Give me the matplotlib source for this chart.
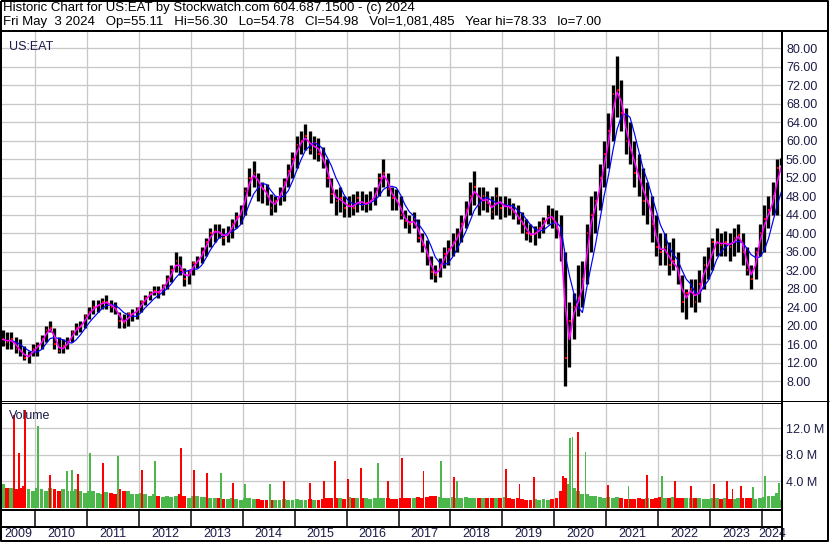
import numpy as np
import pandas as pd
import matplotlib
matplotlib.use("Agg")
import matplotlib.pyplot as plt

plt.rcParams["font.family"] = ["Liberation Sans", "DejaVu Sans"]

# DATA (monthly, May 2009 .. May 2024)

months = pd.date_range("2009-05-01", "2024-05-01", freq="MS")

price_high = [
    19, 18.5, 18.5, 17.5, 17, 15.5, 14.5, 16,                      # 2009 May-Dec
    16.5, 18, 20, 21, 19.5, 17.5, 17, 17.5, 19, 20.5, 21, 22.5,    # 2010
    24, 25.5, 25.5, 26, 26.5, 25.5, 25, 23, 22.5, 23, 23.5, 24,    # 2011
    25.5, 26.5, 27.5, 28.5, 28.5, 29, 31, 33, 36, 35, 32.5, 32,    # 2012
    34, 35, 37, 39, 41, 42, 42, 41, 41.5, 43, 44.5, 46,            # 2013
    50, 54, 55.5, 53, 51, 50.5, 48.5, 48, 50, 52, 55, 57.5,        # 2014
    61, 62, 63.5, 62, 61, 60.5, 58.5, 56, 52, 49.5, 50, 48,        # 2015
    48, 48.5, 49, 49, 48.5, 49, 50, 53, 56, 53, 50, 49.5,          # 2016
    48, 45, 44, 44.5, 43, 40, 38.5, 35, 33, 34.5, 37, 38.5,        # 2017
    40, 41, 44, 47, 51, 53.5, 50, 50, 49, 48, 50, 48,              # 2018
    48, 47.5, 46.5, 46, 44.5, 43, 42, 41.5, 42.5, 43.5, 46, 45.5,  # 2019
    45, 44, 36, 25, 27, 33, 34, 42, 48, 49, 55, 60,                # 2020
    66, 72, 78.3, 73, 67, 64, 60, 57, 54, 51, 48, 44,              # 2021
    40, 40, 38, 39, 36, 31, 28, 30, 30, 32, 35, 37,                # 2022
    39, 41, 40, 40.5, 40, 41, 42, 40, 37, 33, 37, 42,              # 2023
    46, 48, 51, 56, 56.3,                                          # 2024
]
price_low = [
    15.5, 15, 15, 14, 13.5, 12.5, 12, 13.5,
    13.5, 15, 16.5, 18.5, 15, 14, 14, 15, 16.5, 18, 18.5, 19.5,
    21.5, 22.5, 23, 23.5, 23.5, 23, 22.5, 19.5, 19.5, 20, 21, 21.5,
    23, 24.5, 25.5, 26.5, 26, 26.5, 28, 29.5, 31.5, 31, 28.5, 29,
    31, 32.5, 33.5, 35, 37, 38, 39, 37.5, 38, 39, 41, 42,
    44, 48, 50, 47, 46.5, 46, 44, 44.5, 46, 47, 50, 52,
    54, 57, 58, 57, 56, 55.5, 54, 50, 46.5, 44, 44.5, 43.5,
    43.5, 44, 44.5, 45, 44.5, 45, 46, 48, 50, 48, 45, 45,
    43, 41, 40, 41, 38, 36, 33, 30, 29.5, 30.5, 32.5, 33,
    35, 36, 38, 41, 44, 46, 44, 45, 44.5, 43, 44, 43,
    43.5, 44, 43, 42, 40, 38.5, 38, 37.5, 39, 40, 42, 41,
    39, 34, 7, 11, 17, 22, 24, 29, 36, 40, 45, 50,
    54, 60, 65, 62, 57, 55, 50, 48, 44, 42, 38, 35,
    33, 33, 31, 32, 29, 23, 21.5, 24, 23, 25, 28, 30,
    32, 35, 35, 35, 34, 35, 36, 33, 31, 28, 30, 35,
    36, 41, 44, 44, 54.8,
]
price_close = [
    17, 16.5, 17, 15, 14.5, 13, 13.5, 15,
    15.5, 17, 19, 19.5, 16, 14.5, 15.5, 16.5, 18.5, 19.5, 20, 22,
    23, 24, 24.5, 25, 25, 24, 23.5, 21, 20.5, 22.5, 22.5, 23.5,
    25, 26, 27, 27.5, 27, 28.5, 30, 32, 34, 32, 30, 31.5,
    33.5, 34, 36, 38, 40, 40.5, 40, 39, 40, 42, 43.5, 44.5,
    49, 52, 53, 50, 49.5, 48, 45.5, 47, 48.5, 51, 53.5, 56,
    59, 60, 61, 58, 59.5, 57, 55.5, 52, 48.5, 47, 47.5, 45.5,
    46, 45.5, 47.5, 46, 46.5, 47, 48.5, 52, 53, 49.5, 47.5, 47,
    44, 42.5, 42, 43, 39, 37.5, 35, 31.5, 31, 33, 35.5, 36.5,
    38, 39.5, 42, 45, 48, 50, 46, 48, 46.5, 44.5, 48, 45.5,
    46, 45.5, 44.5, 43, 42, 40, 39.5, 40, 41, 42.5, 44, 43,
    41, 36, 13, 21, 24, 26, 30, 40, 44, 47, 52, 57,
    62, 70, 71, 66, 60, 58, 53, 52, 47, 47, 42, 37,
    36, 37, 33, 34, 31, 25, 27, 28, 25, 29, 33, 33,
    38, 38, 37.5, 38, 37, 39, 39.5, 36, 32, 30, 36, 40,
    43, 45, 48, 54, 54.98,
]
volume_m = [
    3.5, 3, 3, 2.8, 3, 3.2, 2.8, 2.5,
    3, 2.8, 2.5, 3, 2.8, 2.5, 2.8, 2.5, 2.5, 2.8, 2.5, 2.2,
    2.5, 2.5, 2.2, 2, 2.3, 2.2, 2, 2.8, 2.5, 2.5, 2, 2,
    2.2, 2, 1.8, 2, 1.8, 1.6, 1.8, 1.6, 1.8, 2, 1.8, 1.5,
    1.8, 1.8, 1.6, 1.6, 1.5, 1.5, 1.4, 1.3, 1.3, 1.4, 1.3, 1.2,
    1.4, 1.4, 1.3, 1.3, 1.1, 1.1, 1.2, 1.1, 1.1, 1.3, 1.2, 1.1,
    1.3, 1.2, 1.2, 1.3, 1.2, 1.2, 1.3, 1.4, 1.5, 1.5, 1.4, 1.3,
    1.6, 1.5, 1.4, 1.5, 1.4, 1.3, 1.4, 1.5, 1.4, 1.4, 1.3, 1.3,
    1.5, 1.4, 1.4, 1.5, 1.6, 1.5, 1.6, 1.8, 1.7, 1.6, 1.5, 1.5,
    1.6, 1.5, 1.5, 1.6, 1.5, 1.4, 1.5, 1.4, 1.4, 1.5, 1.4, 1.5,
    1.6, 1.4, 1.3, 1.5, 1.3, 1.2, 1.2, 1.3, 1.2, 1.3, 1.2, 1.3,
    1.5, 2.5, 4.5, 3.5, 3, 2.5, 2, 2, 1.8, 1.8, 1.6, 1.5,
    1.6, 1.5, 1.6, 1.4, 1.3, 1.3, 1.3, 1.4, 1.3, 1.5, 1.3, 1.4,
    1.6, 1.4, 1.4, 1.6, 1.5, 1.4, 1.4, 1.5, 1.4, 1.4, 1.3, 1.3,
    1.5, 1.4, 1.3, 1.4, 1.3, 1.3, 1.4, 1.5, 1.4, 1.4, 1.3, 1.4,
    1.6, 1.7, 1.8, 2.2, 1.1,
]

# single heavy weeks (decimal year, millions, 1 = up week)
spike_year = [2009.60, 2009.69, 2009.81, 2010.06, 2010.29, 2010.62, 2010.71, 2010.83,
              2011.06, 2011.31, 2011.60, 2012.06, 2012.31, 2012.81, 2013.06, 2013.31,
              2013.58, 2013.82, 2014.05, 2014.53, 2014.80, 2015.30, 2015.57, 2015.78,
              2016.03, 2016.28, 2016.61, 2016.80, 2017.07, 2017.48, 2017.82, 2018.07,
              2018.13, 2019.07, 2019.33, 2019.61, 2020.17, 2020.31, 2020.35, 2020.46,
              2020.60, 2021.04, 2021.43, 2021.79, 2022.08, 2022.33, 2022.64, 2023.08,
              2023.33, 2023.43, 2023.60, 2023.82, 2024.05, 2024.32]
spike_vol = [14.0, 8.2, 14.7, 12.4, 4.9, 5.5, 5.7, 5.1,
             8.2, 6.7, 7.8, 5.7, 7.0, 9.0, 5.7, 5.2,
             5.2, 3.7, 3.6, 3.6, 4.0, 3.7, 4.0, 7.0,
             4.4, 6.0, 6.8, 4.0, 7.5, 5.5, 7.0, 4.6,
             4.0, 5.8, 3.6, 4.7, 4.8, 10.5, 10.6, 11.4,
             8.4, 3.4, 3.3, 4.9, 4.8, 4.0, 3.3, 3.5,
             4.0, 2.8, 3.3, 3.1, 4.8, 3.7]
spike_up = [0, 0, 0, 1, 0, 1, 1, 0,
            1, 0, 1, 0, 1, 0, 0, 0,
            1, 0, 1, 1, 0, 0, 0, 0,
            0, 0, 1, 0, 0, 0, 1, 0,
            1, 0, 0, 0, 0, 1, 1, 0,
            1, 0, 1, 0, 1, 0, 0, 0,
            0, 0, 0, 1, 1, 1]

year_bounds = list(range(2010, 2025))
year_labels = [str(y) for y in range(2009, 2025)]
price_ticks = list(range(8, 81, 4))
vol_ticks = [4, 8, 12]

HEADER_1 = "Historic Chart for US:EAT by Stockwatch.com 604.687.1500 - (c) 2024"
HEADER_2 = ("Fri May  3 2024   Op=55.11   Hi=56.30   Lo=54.78   Cl=54.98   "
            "Vol=1,081,485   Year hi=78.33   lo=7.00")

# LAYOUT (pixels of the 830x543 canvas)

W, H = 830, 543
X0, X1 = 2, 782
XLIM = (2009.364, 2024.385)
GRID = "#c8c8c8"
LABEL = "#1c1c48"
RED = "#ff0000"
GREEN = "#4cb84c"
PX = 72 / 100  # one pixel in points


def _rect(top, bottom):
    return [X0 / W, 1 - bottom / H, (X1 - X0) / W, (bottom - top) / H]


t = months.year + (months.month - 1) / 12 + 1 / 24
close = pd.Series(price_close)
ma_short = close.rolling(2, min_periods=1).mean()
ma_long = close.rolling(5, min_periods=3).mean()
vol_up = close.diff().fillna(0) >= 0

fig = plt.figure(figsize=(W / 100, H / 100), dpi=100)

# --- price panel ---
ax_p = fig.add_axes(_rect(32, 401))
ax_p.set_xlim(*XLIM)
ax_p.set_ylim(3.68, 83.46)
ax_p.set_axisbelow(True)
ax_p.vlines(t, price_low, price_high, color="black", lw=3.3 * PX)
ax_p.hlines(price_close, t, t + 0.03, color=RED, lw=2.0 * PX)
ax_p.plot(t, ma_long, color="#0000ff", lw=1.2 * PX)
ax_p.plot(t, ma_short, color="#ff00ff", lw=1.6 * PX)
ax_p.set_yticks(price_ticks)
ax_p.set_yticklabels([f"{v:.2f}" for v in price_ticks])
ax_p.set_xticks(year_bounds)
ax_p.text(0.009, 0.975, "US:EAT", transform=ax_p.transAxes, fontsize=9,
          ha="left", va="top", color=LABEL)

# --- volume panel ---
ax_v = fig.add_axes(_rect(403, 510))
ax_v.set_xlim(*XLIM)
ax_v.set_ylim(-0.35, 15.8)
ax_v.set_axisbelow(True)
ax_v.bar(t, volume_m, width=1 / 12 * 0.9,
         color=[GREEN if u else RED for u in vol_up], linewidth=0)
ax_v.bar(spike_year, spike_vol, width=0.035,
         color=[GREEN if u else RED for u in spike_up], linewidth=0)
ax_v.set_yticks(vol_ticks)
ax_v.set_yticklabels([f"{v:.1f} M" for v in vol_ticks])
ax_v.set_xticks(year_bounds)
ax_v.text(0.009, 0.93, "Volume", transform=ax_v.transAxes, fontsize=9,
          ha="left", va="top", color=LABEL)

for ax in (ax_p, ax_v):
    ax.grid(True, color=GRID, lw=1.3 * PX)
    ax.yaxis.tick_right()
    ax.tick_params(axis="y", length=0, pad=4 * PX, labelsize=9, labelcolor=LABEL)
    ax.tick_params(axis="x", length=0, labelbottom=False)
    for s in ax.spines.values():
        s.set_visible(False)

# --- date strip ---
ax_d = fig.add_axes(_rect(510, 541))
ax_d.set_xlim(*XLIM)
ax_d.set_ylim(0, 1)
ax_d.axis("off")
ax_d.vlines(year_bounds, 0.45, 1, color="black", lw=1.5 * PX)
edges = [XLIM[0]] + year_bounds + [XLIM[1]]
for lab, a, b in zip(year_labels, edges[:-1], edges[1:]):
    ax_d.text((a + b) / 2, 0.24, lab, ha="center", va="center", fontsize=9,
              color=LABEL, clip_on=False)

# --- frame and header ---
ov = fig.add_axes([0, 0, 1, 1], zorder=10)
ov.set_xlim(0, W)
ov.set_ylim(H, 0)
ov.axis("off")
ov.patch.set_alpha(0)
k = dict(color="black", solid_capstyle="butt")
ov.plot([1, 828, 828, 1, 1], [1, 1, 541, 541, 1], lw=2 * PX, **k)
ov.plot([0, 829], [31, 31], lw=2 * PX, **k)
ov.plot([0, 829], [400.5, 400.5], lw=1 * PX, **k)
ov.plot([0, X1], [403, 403], lw=1 * PX, **k)
ov.plot([0, X1], [510, 510], lw=2 * PX, **k)
ov.plot([0, X1], [527, 527], lw=2 * PX, **k)
ov.plot([X1, X1], [31, 541], lw=2 * PX, **k)
ov.text(3, 8, HEADER_1, fontsize=9.5, ha="left", va="center")
ov.text(3, 22, HEADER_2, fontsize=9.5, ha="left", va="center")

fig.savefig("out.png", dpi=100)
